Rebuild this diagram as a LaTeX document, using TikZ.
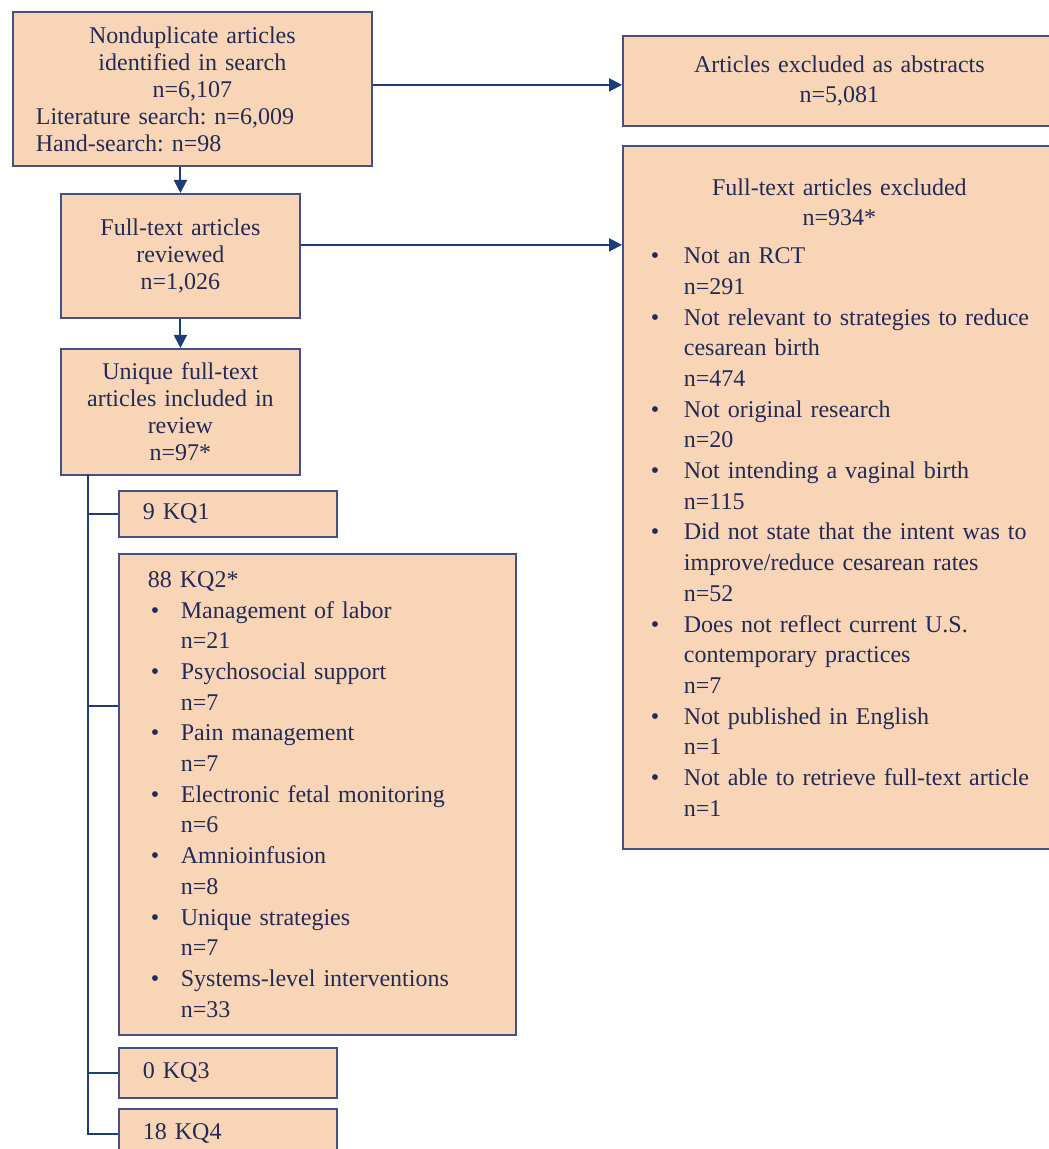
\documentclass[tikz,border=0pt]{standalone}
\usepackage{fontspec}
\setmainfont{Liberation Serif}
\usetikzlibrary{arrows.meta}

\definecolor{boxfill}{HTML}{F9D5B7}
\definecolor{boxline}{HTML}{44507F}
\definecolor{linkblue}{HTML}{1D3C78}
\definecolor{txtblue}{HTML}{232A55}

\newlength{\bulx}
\newlength{\bulw}
\newcommand{\lft}[1]{\makebox[\hsize][l]{#1}}
\newcommand{\itm}[1]{\makebox[\hsize][l]{\hspace{\bulx}\makebox[\bulw][l]{\textbullet}#1}}
\newcommand{\cnt}[1]{\makebox[\hsize][l]{\hspace{\bulx}\hspace{\bulw}#1}}
\frenchspacing

\begin{document}
\begin{tikzpicture}[
    x=0.5pt, y=-0.5pt,
    box/.style={rectangle, draw=boxline, fill=boxfill, line width=0.9pt, anchor=north west, text=txtblue, inner ysep=0pt, font={\fontsize{12}{13.5}\selectfont}},
    topbox/.style={box, align=center, inner xsep=6pt},
    kqbox/.style={box, align=left, inner xsep=12pt, text width=85pt, minimum height=23pt},
    listbox/.style={box, inner xsep=6pt, font={\fontsize{12}{15.35}\selectfont}},
    link/.style={draw=linkblue, line width=1pt},
    arrow/.style={link, -{Triangle[length=6.5pt, width=6.5pt]}}
]
\useasboundingbox (0,0) rectangle (1048,1149);
\fill[white] (0,0) rectangle (1048,1149);

% Nodes
\node[topbox, inner xsep=11.5pt, text width=156.5pt, minimum height=77pt] (search) at (12,11)
    {Nonduplicate articles\\identified in search\\n=6,107\\\lft{Literature search: n=6,009}\\\lft{Hand-search: n=98}};
\node[topbox, text width=107.5pt, minimum height=62pt] (review) at (60,193)
    {Full-text articles\\reviewed\\n=1,026};
\node[topbox, text width=107.5pt, minimum height=63pt] (unique) at (60,348)
    {Unique full-text\\articles included in\\review\\n=97*};

\node[kqbox] (kq1) at (118,490) {9 KQ1};
\node[listbox, align=left, inner xsep=14.5pt, text width=169.5pt, minimum height=240.5pt,
    execute at begin node={\setlength{\bulx}{1.5pt}\setlength{\bulw}{15pt}}] (kq2) at (118,553)
    {88 KQ2*\\
     \itm{Management of labor}\\\cnt{n=21}\\
     \itm{Psychosocial support}\\\cnt{n=7}\\
     \itm{Pain management}\\\cnt{n=7}\\
     \itm{Electronic fetal monitoring}\\\cnt{n=6}\\
     \itm{Amnioinfusion}\\\cnt{n=8}\\
     \itm{Unique strategies}\\\cnt{n=7}\\
     \itm{Systems-level interventions}\\\cnt{n=33}};
\node[kqbox, minimum height=25pt] (kq3) at (118,1047) {0 KQ3};
\node[kqbox, minimum height=25pt] (kq4) at (118,1108) {18 KQ4};

\node[listbox, align=center, text width=204.5pt, minimum height=45pt] (abstr) at (622,35)
    {Articles excluded as abstracts\\n=5,081};
\node[listbox, align=center, text width=204.5pt, minimum height=351.5pt,
    execute at begin node={\setlength{\bulx}{8pt}\setlength{\bulw}{16.5pt}}] (excl) at (622,145)
    {Full-text articles excluded\\n=934*\\[3.5pt]
     \itm{Not an RCT}\\\cnt{n=291}\\
     \itm{Not relevant to strategies to reduce}\\\cnt{cesarean birth}\\\cnt{n=474}\\
     \itm{Not original research}\\\cnt{n=20}\\
     \itm{Not intending a vaginal birth}\\\cnt{n=115}\\
     \itm{Did not state that the intent was to}\\\cnt{improve/reduce cesarean rates}\\\cnt{n=52}\\
     \itm{Does not reflect current U.S.}\\\cnt{contemporary practices}\\\cnt{n=7}\\
     \itm{Not published in English}\\\cnt{n=1}\\
     \itm{Not able to retrieve full-text article}\\\cnt{n=1}};

\coordinate (trunk) at (88,474);
\coordinate (kq2tap) at ([yshift=44.25pt]kq2.west);

% Paths
\draw[arrow] (search.south -| review.north) -- (review.north);
\draw[arrow] (review.south) -- (unique.north);
\draw[arrow] ([yshift=2pt]search.east) -- ([yshift=2pt]search.east -| abstr.west);
\draw[arrow] ([yshift=5.5pt]review.east) -- ([yshift=5.5pt]review.east -| excl.west);

\draw[link] (trunk) |- (kq4.west);
\draw[link] (trunk |- kq1.west) -- (kq1.west);
\draw[link] (trunk |- kq2tap) -- (kq2tap);
\draw[link] (trunk |- kq3.west) -- (kq3.west);
\end{tikzpicture}
\end{document}
